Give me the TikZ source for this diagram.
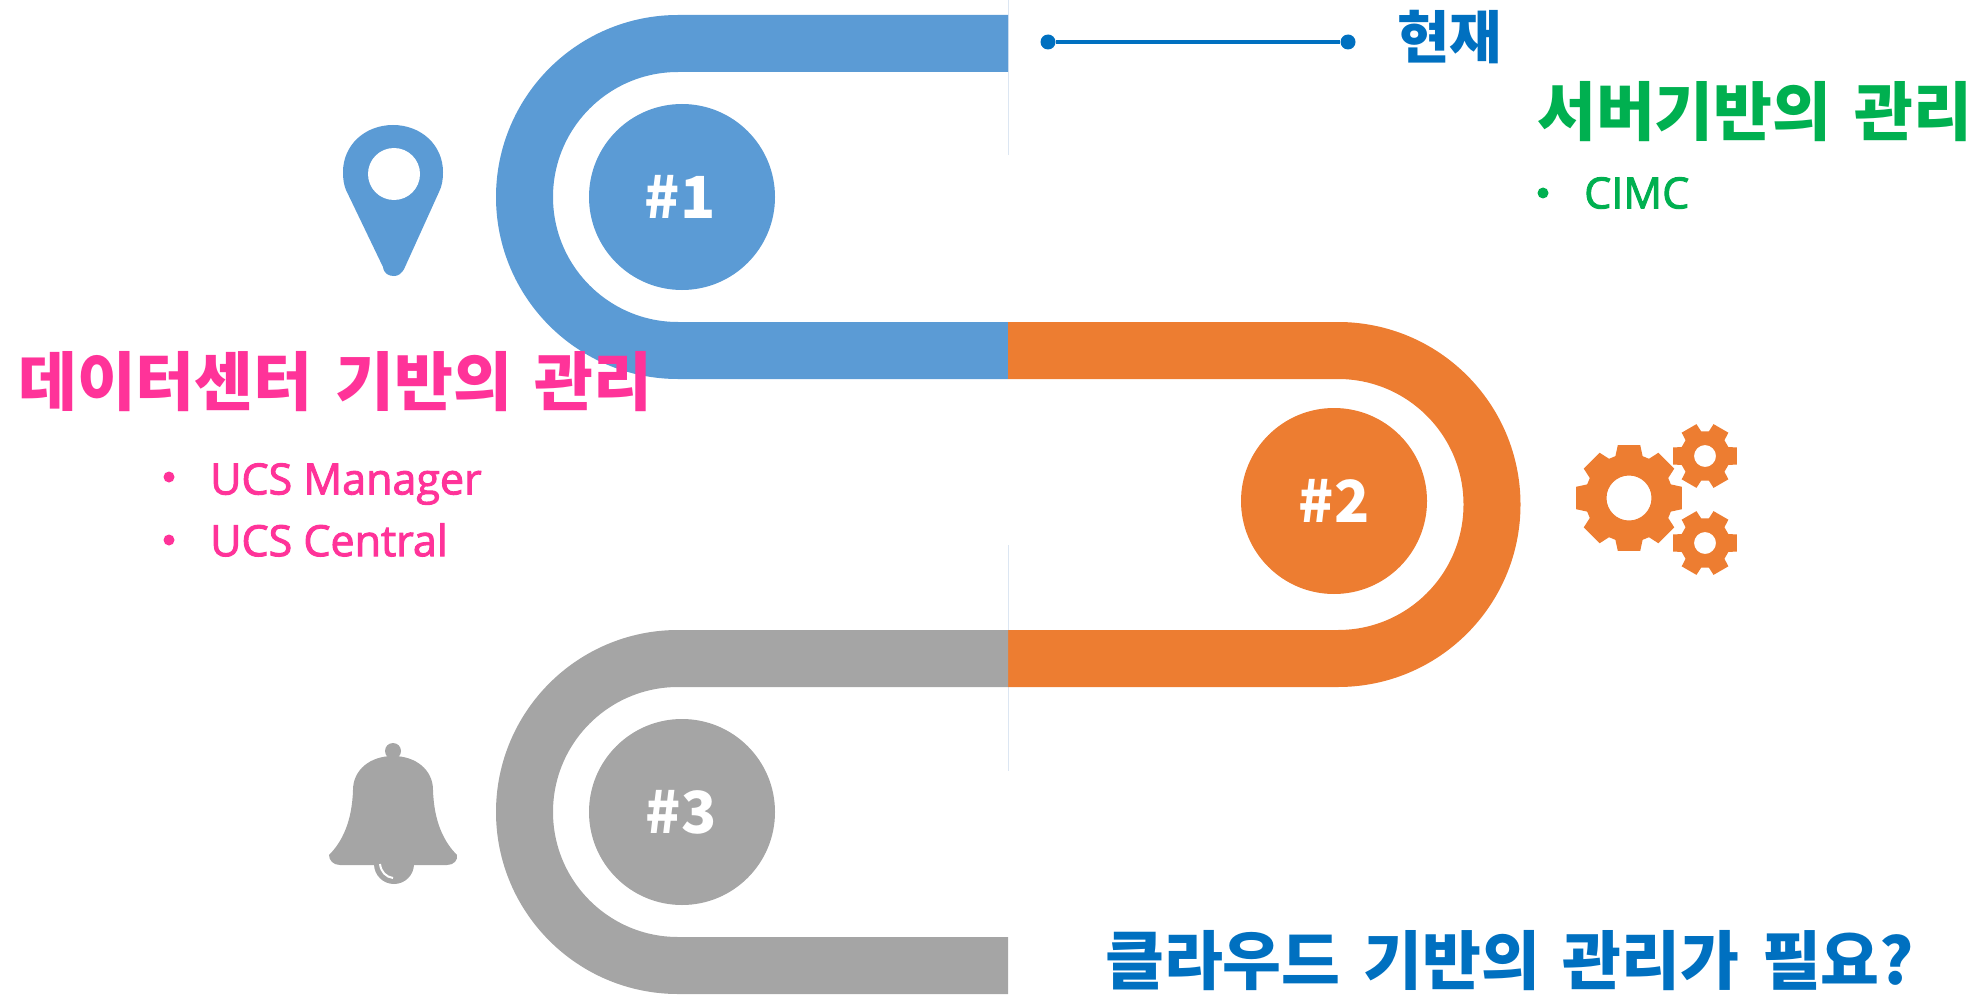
\documentclass[tikz,border=0pt]{standalone}
\usepackage{fontspec}
\newfontfamily\kr{Noto Sans CJK KR}[WordSpace=1.55]
\newfontfamily\lat{Open Sans}[FakeBold=2.2]
\definecolor{bandblue}{HTML}{5B9BD5}
\definecolor{bandorange}{HTML}{ED7D31}
\definecolor{bandgray}{HTML}{A5A5A5}
\definecolor{hotpink}{HTML}{FF3399}
\definecolor{leafgreen}{HTML}{00B050}
\definecolor{deepblue}{HTML}{0070C0}
\definecolor{guide}{HTML}{DCE6F2}
\tikzset{
  band/.style={line width=57pt,line cap=butt},
  numdisc/.style={circle,minimum size=186pt,inner sep=0pt,text=white,font=\kr\bfseries\fontsize{58}{58}\selectfont},
  head/.style={anchor=west,inner sep=0pt,font=\kr\bfseries\fontsize{64}{64}\selectfont},
  item/.style={anchor=west,inner sep=0pt,font=\lat\fontsize{43}{43}\selectfont},
  dotmark/.style={circle,minimum size=#1,inner sep=0pt},
  guideline/.style={guide,line width=1pt},
}
\newcommand{\gearshape}[7]{%
 % x y outer root teeth halfwidth holeradius
 \fill[even odd rule,bandorange] ($(#1,#2)+(-#6-6:#4pt)$)
 \foreach \k in {1,...,#5}{
   -- ($(#1,#2)+({(\k-1)*360/#5-#6-6}:#4pt)$)
   -- ($(#1,#2)+({(\k-1)*360/#5-#6}:#3pt)$)
   -- ($(#1,#2)+({(\k-1)*360/#5+#6}:#3pt)$)
   -- ($(#1,#2)+({(\k-1)*360/#5+#6+6}:#4pt)$)
 } -- cycle
 (#1,#2) circle[radius=#7pt];}
\usetikzlibrary{calc}
\begin{document}
\begin{tikzpicture}[x=1pt,y=-1pt]
\useasboundingbox (0,0) rectangle (1988,995);
% guides
\coordinate (g1a) at (1008,0); \coordinate (g1b) at (1008,155);
\coordinate (g2a) at (1008,545); \coordinate (g2b) at (1008,771);
\draw[guideline] (g1a) -- (g1b);
\draw[guideline] (g2a) -- (g2b);
% bands
\draw[band,bandblue] (1008,43.5) -- (678,43.5) arc[start angle=90,end angle=270,radius=153.5pt] -- (1008,350.5);
\draw[band,bandorange] (1008,350.5) -- (1338,350.5) arc[start angle=90,end angle=-90,radius=154pt] -- (1008,658.5);
\draw[band,bandgray] (1008,658.5) -- (678,658.5) arc[start angle=90,end angle=270,radius=153.5pt] -- (1008,965.5);
% discs
\node[numdisc,fill=bandblue] (n1) at (682,197) {\hspace{-4pt}\raisebox{-7pt}{\#1}};
\node[numdisc,fill=bandorange] (n2) at (1334,501) {\raisebox{-5pt}{\#2}};
\node[numdisc,fill=bandgray] (n3) at (682,812) {\hspace{-2pt}\raisebox{-5pt}{\#3}};
% pin
\fill[bandblue] (343,172) .. controls (343,145) and (365,125) .. (393,125) .. controls (421,125) and (443,145) .. (443,172) .. controls (443,180) and (442,186) .. (439,192) -- (405,267) .. controls (402,274) and (398,276) .. (394,276) .. controls (389,276) and (384,274) .. (383,267) -- (346,190) .. controls (344,185) and (343,180) .. (343,172) -- cycle;
\fill[white] (394,174) circle[radius=26pt];
% gears
\gearshape{1629}{498}{54}{44}{8}{12}{22.5}
\gearshape{1705}{456}{33}{25}{6}{15}{11}
\gearshape{1705}{543}{33}{25}{6}{15}{11}
% bell
\fill[bandgray] (393,751) circle[radius=8pt];
\fill[bandgray] (393,756) .. controls (370,756) and (353,770) .. (353,790) .. controls (352,822) and (342,842) .. (329,855) .. controls (329,860) and (333,865) .. (340,865) -- (447,865) .. controls (454,865) and (458,860) .. (457,855) .. controls (444,842) and (434,822) .. (433,790) .. controls (433,770) and (416,756) .. (393,756) -- cycle;
\fill[bandgray] (374,864) arc[start angle=180,end angle=360,radius=20pt] -- cycle;
\draw[white,line width=2pt] (380,864) .. controls (381,872) and (386,877) .. (393,878);
% timeline
\node[dotmark=15pt,fill=deepblue] (t1) at (1048,42) {};
\node[dotmark=15pt,fill=deepblue] (t2) at (1348,42) {};
\draw[deepblue,line width=4pt] (t1) -- (t2);
% text
\node[head,text=deepblue,font=\kr\bfseries\fontsize{57}{57}\selectfont] (now) at (1397,37) {현재};
\node[head,text=leafgreen] (h1) at (1537,112) {서버기반의 관리};
\node[item,text=leafgreen] (c1) at (1584,193) {CIMC};
\node[dotmark=11pt,fill=leafgreen] (b0) at (1543,193) {};
\node[head,text=hotpink] (h2) at (18,382) {데이터센터 기반의 관리};
\node[item,text=hotpink] (u1) at (210,484) {UCS Manager};
\node[item,text=hotpink] (u2) at (210,540) {UCS Central};
\node[dotmark=11pt,fill=hotpink] (b1) at (169,477) {};
\node[dotmark=11pt,fill=hotpink] (b2) at (169,540) {};
\node[head,text=deepblue] (h3) at (1105,961) {클라우드 기반의 관리가 필요?};
\end{tikzpicture}
\end{document}
